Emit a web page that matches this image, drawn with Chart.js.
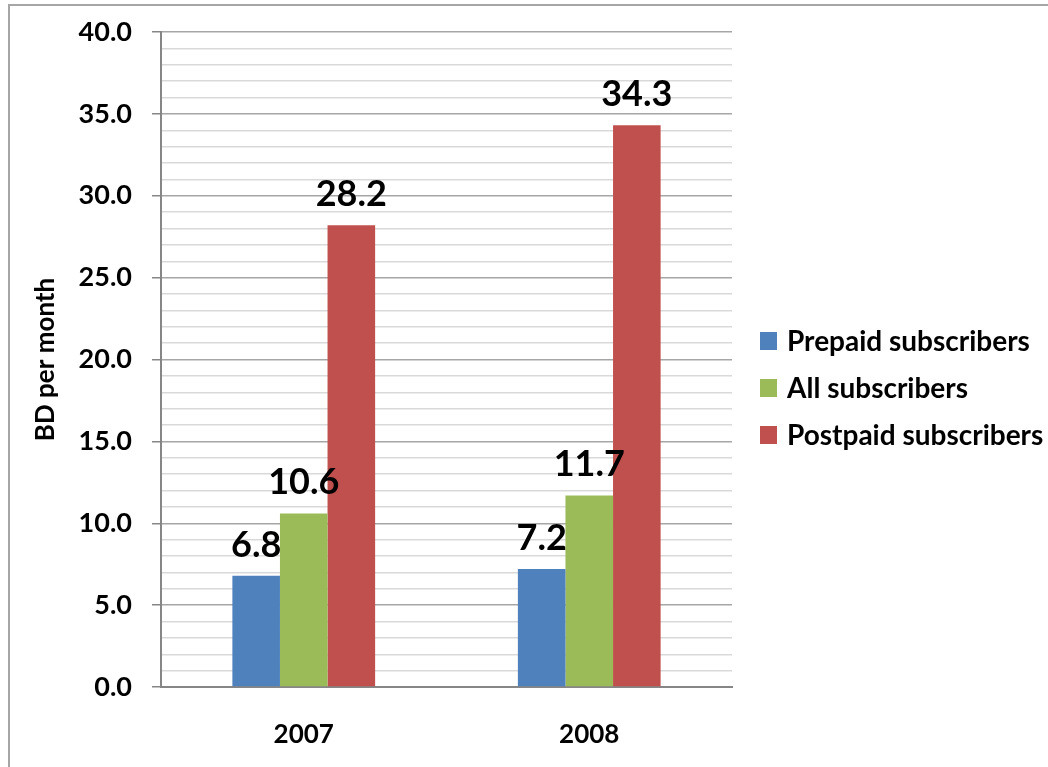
<!DOCTYPE html>
<html>
<head>
<meta charset="utf-8">
<script src="https://cdn.jsdelivr.net/npm/chart.js@4"></script>
<style>
  body { margin: 0; background: #fff; }
  canvas { display: block; }
</style>
</head>
<body>
<canvas id="arpuChart" width="1048" height="767"></canvas>
<script>
// values
const years = ["2007", "2008"];
const prepaid = [6.8, 7.2];
const allSubscribers = [10.6, 11.7];
const postpaid = [28.2, 34.3];
const seriesNames = ["Prepaid subscribers", "All subscribers", "Postpaid subscribers"];
const seriesColors = ["#4F81BD", "#9BBB59", "#C0504D"];
const yMax = 40;
const yStep = 1;
const yLabelStep = 5;

const FONT = "Lato, 'Open Sans', sans-serif";
Chart.defaults.font.family = FONT;
Chart.defaults.color = "#000";

// white background + the frame around the chart
const frame = {
  id: "frame",
  beforeDraw(chart) {
    const c = chart.ctx;
    c.save();
    c.fillStyle = "#fff";
    c.fillRect(0, 0, chart.width, chart.height);
    c.strokeStyle = "#a6a6a6";
    c.lineWidth = 2;
    c.beginPath();
    c.moveTo(9, chart.height);
    c.lineTo(9, 5);
    c.lineTo(chart.width, 5);
    c.stroke();
    c.restore();
  },
};

// value labels above each bar
const barLabels = {
  id: "barLabels",
  afterDatasetsDraw(chart) {
    const c = chart.ctx;
    c.save();
    c.font = "bold 36px " + FONT;
    c.fillStyle = "#000";
    c.textAlign = "center";
    c.textBaseline = "alphabetic";
    chart.data.datasets.forEach((ds, i) => {
      chart.getDatasetMeta(i).data.forEach((bar, j) => {
        c.fillText(ds.data[j].toFixed(1), bar.x, bar.y - 19);
      });
    });
    c.restore();
  },
};

// legend on the right, Excel style
const sideLegend = {
  id: "sideLegend",
  afterDraw(chart) {
    const c = chart.ctx;
    c.save();
    c.font = "bold 28px " + FONT;
    c.textBaseline = "middle";
    c.textAlign = "left";
    chart.data.datasets.forEach((ds, i) => {
      const cy = 341 + i * 47;
      c.fillStyle = ds.backgroundColor;
      c.fillRect(760, cy - 9, 17, 18);
      c.fillStyle = "#000";
      c.fillText(ds.label, 787, cy + 1);
    });
    c.restore();
  },
};

const isMajor = (v) => v % yLabelStep === 0;

new Chart(document.getElementById("arpuChart").getContext("2d"), {
  type: "bar",
  data: {
    labels: years,
    datasets: [
      { label: seriesNames[0], data: prepaid, backgroundColor: seriesColors[0] },
      { label: seriesNames[1], data: allSubscribers, backgroundColor: seriesColors[1] },
      { label: seriesNames[2], data: postpaid, backgroundColor: seriesColors[2] },
    ],
  },
  options: {
    responsive: false,
    animation: false,
    layout: { padding: { left: 20, right: 316, top: 32, bottom: 0 } },
    datasets: {
      bar: { categoryPercentage: 0.5, barPercentage: 1.0 },
    },
    scales: {
      x: {
        grid: { display: false },
        border: { color: "#868686", width: 2 },
        ticks: { font: { size: 26, weight: "bold" }, color: "#000", padding: 24 },
        afterFit(scale) { scale.height = 80; },
      },
      y: {
        min: 0,
        max: yMax,
        border: { color: "#868686", width: 2 },
        grid: {
          color: (ctx) => (ctx.tick && isMajor(ctx.tick.value) ? "#a6a6a6" : "#d9d9d9"),
          tickColor: (ctx) => (ctx.tick && isMajor(ctx.tick.value) ? "#868686" : "rgba(0,0,0,0)"),
          tickLength: 9,
          lineWidth: 1.5,
        },
        ticks: {
          stepSize: yStep,
          autoSkip: false,
          padding: 20,
          font: { size: 27, weight: "bold" },
          color: "#000",
          callback: (v) => (isMajor(v) ? v.toFixed(1) : ""),
        },
        title: {
          display: true,
          text: "BD per month",
          font: { size: 26, weight: "bold" },
          color: "#000",
          padding: { top: 10, bottom: 0 },
        },
        afterFit(scale) {
          scale.width = 141;
          // let the layout padding alone decide where the plot starts
          scale.paddingTop = 0;
          scale.paddingBottom = 0;
        },
      },
    },
    plugins: {
      legend: { display: false },
      tooltip: { enabled: false },
    },
  },
  plugins: [frame, barLabels, sideLegend],
});
</script>
</body>
</html>
